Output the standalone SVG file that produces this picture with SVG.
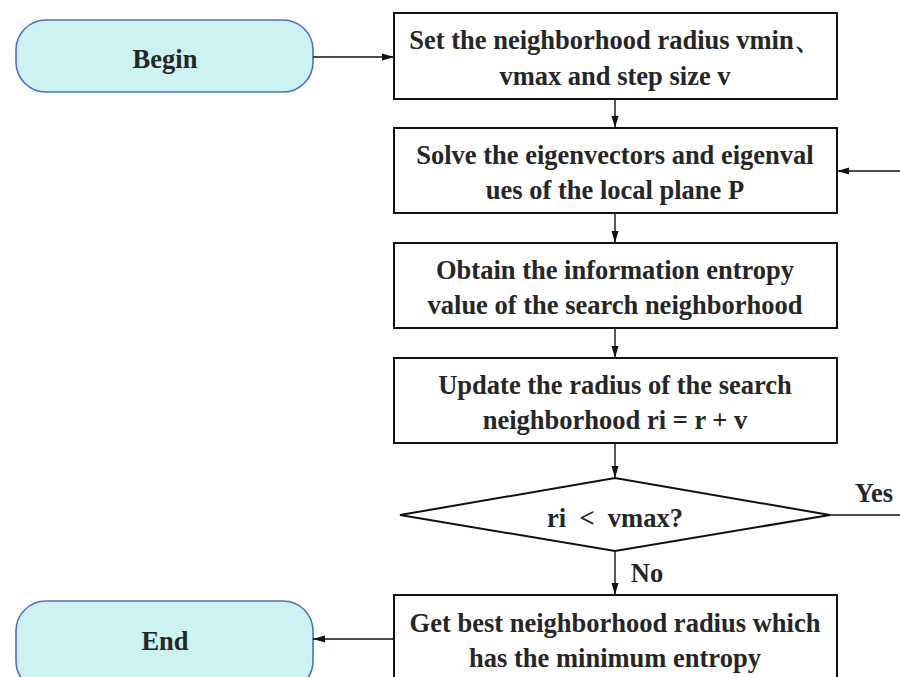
<svg xmlns="http://www.w3.org/2000/svg" width="900" height="677" viewBox="0 0 900 677">
<style>
.t{font-family:"Liberation Serif","Times New Roman",serif;font-weight:bold;font-size:26.5px;fill:#262626;text-anchor:middle}
.term{fill:#ccf3f1;stroke:#4a6fc8;stroke-width:1.6}
.box{fill:#fff;stroke:#111;stroke-width:2}
.c{fill:none;stroke:#111;stroke-width:1.4}
</style>
<defs>
<marker id="a" viewBox="0 0 12 10" refX="12" refY="5" markerWidth="12" markerHeight="10" markerUnits="userSpaceOnUse" orient="auto"><path d="M0,1.5L12,5L0,8.5z" fill="#111"/></marker>
</defs>
<rect width="900" height="677" fill="#fff"/>
<g id="begin"><rect class="term" x="16" y="20" width="297" height="72" rx="30"/><text class="t" x="165" y="68">Begin</text></g>
<g id="set"><rect class="box" x="394" y="13" width="443" height="86"/><text class="t" x="615" y="49">Set the neighborhood radius vmin、</text><text class="t" x="615" y="85">vmax and step size v</text></g>
<g id="solve"><rect class="box" x="394" y="128" width="443" height="85"/><text class="t" x="615" y="164">Solve the eigenvectors and eigenval</text><text class="t" x="615" y="199">ues of the local plane P</text></g>
<g id="entropy"><rect class="box" x="394" y="243" width="443" height="85"/><text class="t" x="615" y="279">Obtain the information entropy</text><text class="t" x="615" y="314">value of the search neighborhood</text></g>
<g id="update"><rect class="box" x="394" y="358" width="443" height="85"/><text class="t" x="615" y="394">Update the radius of the search</text><text class="t" x="615" y="429">neighborhood ri = r + v</text></g>
<g id="decision"><polygon class="box" stroke-width="1.4" points="400,515 615,478 830,515 615,551"/><text class="t" x="615" y="527" xml:space="preserve">ri  &lt;  vmax?</text></g>
<g id="best"><rect class="box" x="394" y="595" width="443" height="100"/><text class="t" x="615" y="632">Get best neighborhood radius which</text><text class="t" x="615" y="667">has the minimum entropy</text></g>
<g id="end"><rect class="term" x="16" y="601" width="297" height="90" rx="30"/><text class="t" x="165" y="650">End</text></g>
<g id="connectors">
<line class="c" x1="313" y1="57" x2="394" y2="57" marker-end="url(#a)"/>
<line class="c" x1="615" y1="99" x2="615" y2="128" marker-end="url(#a)"/>
<line class="c" x1="615" y1="213" x2="615" y2="243" marker-end="url(#a)"/>
<line class="c" x1="615" y1="328" x2="615" y2="358" marker-end="url(#a)"/>
<line class="c" x1="615" y1="443" x2="615" y2="478" marker-end="url(#a)"/>
<line class="c" x1="615" y1="551" x2="615" y2="595" marker-end="url(#a)"/>
<line class="c" x1="830" y1="515" x2="900" y2="515"/>
<line class="c" x1="900" y1="171" x2="837" y2="171" marker-end="url(#a)"/>
<line class="c" x1="394" y1="639" x2="313" y2="639" marker-end="url(#a)"/>
<text class="t" x="874" y="502">Yes</text>
<text class="t" x="647" y="582">No</text>
</g>
</svg>
